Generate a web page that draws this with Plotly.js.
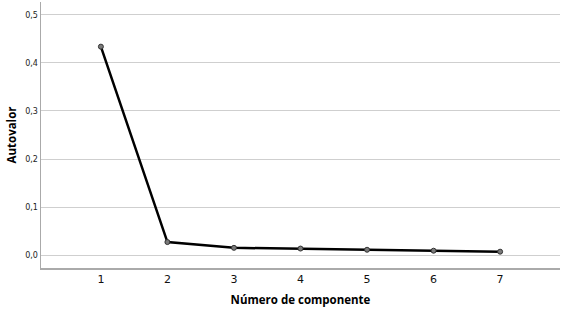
<!DOCTYPE html>
<html><head><meta charset="utf-8">
<script src="https://cdn.plot.ly/plotly-3.0.1.min.js"></script>
<style>body{margin:0;background:#fff}#c{width:568px;height:312px}</style>
</head><body><div id="c"></div>
<script>
var components = [1, 2, 3, 4, 5, 6, 7];
var eigenvalues = [0.434, 0.027, 0.015, 0.0135, 0.011, 0.009, 0.007];
var yTicks = [0, 0.1, 0.2, 0.3, 0.4, 0.5];

Plotly.newPlot('c', [{
  x: components, y: eigenvalues, type: 'scatter', mode: 'lines+markers',
  line: {color: '#000', width: 2.5},
  marker: {size: 5, color: '#7a7a7a', line: {color: '#333', width: 1}}
}], {
  width: 568, height: 312,
  margin: {l: 41, r: 8, t: 2, b: 44},
  separators: ',.',
  paper_bgcolor: '#fff', plot_bgcolor: '#fff',
  showlegend: false,
  font: {family: 'DejaVu Sans, sans-serif', color: '#000'},
  xaxis: {
    range: [0.1, 7.9], tickvals: components, showgrid: false, zeroline: false,
    showline: true, linecolor: '#aaa', linewidth: 1.5, ticks: '',
    tickfont: {size: 11, color: '#111'},
    title: {text: '<b>Número de componente</b>', font: {size: 11.5, family: 'Open Sans, sans-serif'}, standoff: 11}
  },
  yaxis: {
    range: [-0.027, 0.527], tickvals: yTicks, tickformat: '.1f',
    showgrid: true, gridcolor: '#cfcfcf', gridwidth: 1, zeroline: false,
    showline: true, linecolor: '#aaa', linewidth: 1.5, ticks: '',
    tickfont: {size: 8, color: '#222'},
    title: {text: '<b>Autovalor</b>', font: {size: 11.5, family: 'Open Sans, sans-serif'}, standoff: 6}
  }
}, {staticPlot: true});
</script></body></html>
